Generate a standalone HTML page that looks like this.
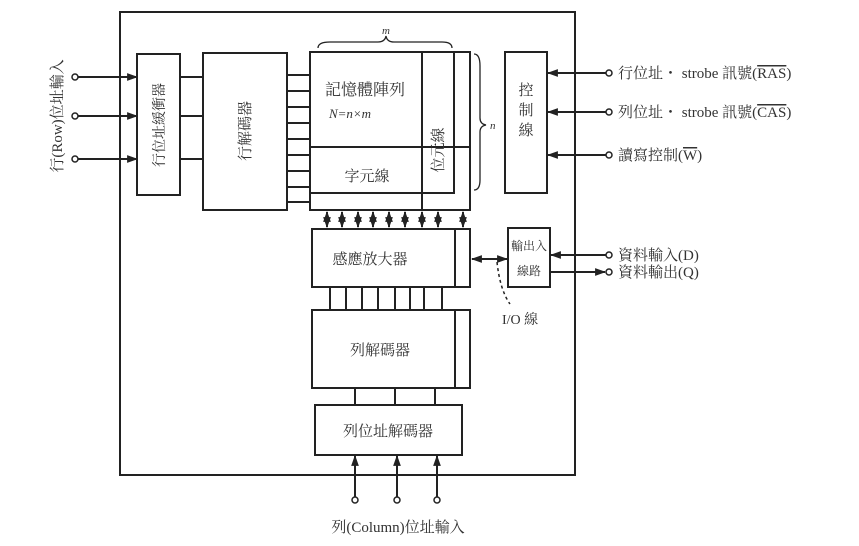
<!DOCTYPE html>
<html><head><meta charset="utf-8"><style>
html,body{margin:0;padding:0;background:#fff;}
svg{display:block;font-family:"Liberation Serif","Noto Serif CJK SC","Noto Sans CJK TC",serif;}
</style></head><body>
<svg width="859" height="546" viewBox="0 0 859 546" xmlns="http://www.w3.org/2000/svg">
<defs>
<marker id="a" viewBox="0 0 10 10" refX="9" refY="5" markerWidth="5.5" markerHeight="5.5" orient="auto-start-reverse"><path d="M0,1.5 L10,5 L0,8.5 z" fill="#222"/></marker>
</defs>
<g stroke="#222" stroke-width="2" fill="none">
<rect x="120" y="12" width="455" height="463"/>
<line x1="78" y1="77" x2="137" y2="77" marker-end="url(#a)"/>
<line x1="78" y1="116" x2="137" y2="116" marker-end="url(#a)"/>
<line x1="78" y1="159" x2="137" y2="159" marker-end="url(#a)"/>
<rect x="137" y="54" width="43" height="141"/>
<line x1="180" y1="77" x2="203" y2="77"/>
<line x1="180" y1="116" x2="203" y2="116"/>
<line x1="180" y1="159" x2="203" y2="159"/>
<rect x="203" y="53" width="84" height="157"/>
<line x1="287" y1="75" x2="310" y2="75"/>
<line x1="287" y1="91" x2="310" y2="91"/>
<line x1="287" y1="107" x2="310" y2="107"/>
<line x1="287" y1="123" x2="310" y2="123"/>
<line x1="287" y1="139" x2="310" y2="139"/>
<line x1="287" y1="155" x2="310" y2="155"/>
<line x1="287" y1="171" x2="310" y2="171"/>
<line x1="287" y1="187" x2="310" y2="187"/>
<line x1="287" y1="202" x2="310" y2="202"/>
<rect x="310" y="52" width="160" height="158"/>
<polyline points="310,193 454,193 454,52"/>
<line x1="422" y1="52" x2="422" y2="210"/>
<line x1="310" y1="147" x2="470" y2="147"/>
<path d="M318,48 Q318,42 330,42 L378,42 Q385,42 386,36 Q387,42 394,42 L442,42 Q452,42 452,48" stroke-width="1.3"/>
<path d="M474,54 Q480,54 480,66 L480,118 Q480,124 486,125 Q480,126 480,132 L480,180 Q480,190 474,190" stroke-width="1.3"/>
<g stroke-width="2">
<line x1="327" y1="212" x2="327" y2="227" marker-end="url(#a)" marker-start="url(#a)"/>
<line x1="342" y1="212" x2="342" y2="227" marker-end="url(#a)" marker-start="url(#a)"/>
<line x1="358" y1="212" x2="358" y2="227" marker-end="url(#a)" marker-start="url(#a)"/>
<line x1="373" y1="212" x2="373" y2="227" marker-end="url(#a)" marker-start="url(#a)"/>
<line x1="389" y1="212" x2="389" y2="227" marker-end="url(#a)" marker-start="url(#a)"/>
<line x1="405" y1="212" x2="405" y2="227" marker-end="url(#a)" marker-start="url(#a)"/>
<line x1="422" y1="212" x2="422" y2="227" marker-end="url(#a)" marker-start="url(#a)"/>
<line x1="438" y1="212" x2="438" y2="227" marker-end="url(#a)" marker-start="url(#a)"/>
<line x1="463" y1="212" x2="463" y2="227" marker-end="url(#a)" marker-start="url(#a)"/>
</g>
<rect x="312" y="229" width="158" height="58"/>
<line x1="455" y1="229" x2="455" y2="287"/>
<line x1="330" y1="287" x2="330" y2="310"/>
<line x1="346" y1="287" x2="346" y2="310"/>
<line x1="362" y1="287" x2="362" y2="310"/>
<line x1="378" y1="287" x2="378" y2="310"/>
<line x1="395" y1="287" x2="395" y2="310"/>
<line x1="410" y1="287" x2="410" y2="310"/>
<line x1="424" y1="287" x2="424" y2="310"/>
<line x1="442" y1="287" x2="442" y2="310"/>
<rect x="312" y="310" width="158" height="78"/>
<line x1="455" y1="310" x2="455" y2="388"/>
<line x1="355" y1="388" x2="355" y2="405"/>
<line x1="395" y1="388" x2="395" y2="405"/>
<line x1="435" y1="388" x2="435" y2="405"/>
<rect x="315" y="405" width="147" height="50"/>
<line x1="355" y1="497" x2="355" y2="456" marker-end="url(#a)"/>
<line x1="397" y1="497" x2="397" y2="456" marker-end="url(#a)"/>
<line x1="437" y1="497" x2="437" y2="456" marker-end="url(#a)"/>
<rect x="505" y="52" width="42" height="141"/>
<line x1="606" y1="73" x2="548" y2="73" marker-end="url(#a)"/>
<line x1="606" y1="112" x2="548" y2="112" marker-end="url(#a)"/>
<line x1="606" y1="155" x2="548" y2="155" marker-end="url(#a)"/>
<rect x="508" y="228" width="42" height="59"/>
<line x1="606" y1="255" x2="551" y2="255" marker-end="url(#a)"/>
<line x1="550" y1="272" x2="605" y2="272" marker-end="url(#a)"/>
<line x1="472" y1="259" x2="507" y2="259" marker-end="url(#a)" marker-start="url(#a)"/>
<path d="M497,262 Q500,290 510,304" stroke-width="1.5" stroke-dasharray="3,3"/>
</g>
<g fill="#fff" stroke="#222" stroke-width="1.5">
<circle cx="75" cy="77" r="3"/><circle cx="75" cy="116" r="3"/><circle cx="75" cy="159" r="3"/>
<circle cx="609" cy="73" r="3"/><circle cx="609" cy="112" r="3"/><circle cx="609" cy="155" r="3"/>
<circle cx="609" cy="255" r="3"/><circle cx="609" cy="272" r="3"/>
<circle cx="355" cy="500" r="3"/><circle cx="397" cy="500" r="3"/><circle cx="437" cy="500" r="3"/>
</g>
<g fill="#333" font-size="15">
<text transform="translate(62,116) rotate(-90)" text-anchor="middle">行(Row)位址輸入</text>
<text transform="translate(164,125) rotate(-90)" text-anchor="middle" font-size="14">行位址緩衝器</text>
<text transform="translate(250,131) rotate(-90)" text-anchor="middle">行解碼器</text>
<text x="365" y="95" text-anchor="middle" font-size="16">記憶體陣列</text>
<text x="350" y="118" text-anchor="middle" font-style="italic" font-size="13">N=n×m</text>
<text x="367" y="181" text-anchor="middle">字元線</text>
<text transform="translate(443,150) rotate(-90)" text-anchor="middle">位元線</text>
<text x="386" y="34" text-anchor="middle" font-style="italic" font-size="11">m</text>
<text x="490" y="129" font-style="italic" font-size="11">n</text>
<text x="526" y="95" text-anchor="middle">控</text>
<text x="526" y="115" text-anchor="middle">制</text>
<text x="526" y="135" text-anchor="middle">線</text>
<text x="370" y="264" text-anchor="middle">感應放大器</text>
<text x="380" y="355" text-anchor="middle">列解碼器</text>
<text x="388" y="436" text-anchor="middle">列位址解碼器</text>
<text x="529" y="250" text-anchor="middle" font-size="12">輸出入</text>
<text x="529" y="275" text-anchor="middle" font-size="12">線路</text>
<text x="502" y="324" font-size="14">I/O 線</text>
<text x="398" y="532" text-anchor="middle">列(Column)位址輸入</text>
<text x="618" y="78">行位址・ strobe 訊號(<tspan text-decoration="overline">RAS</tspan>)</text>
<text x="618" y="117">列位址・ strobe 訊號(<tspan text-decoration="overline">CAS</tspan>)</text>
<text x="618" y="160">讀寫控制(<tspan text-decoration="overline">W</tspan>)</text>
<text x="618" y="260">資料輸入(D)</text>
<text x="618" y="277">資料輸出(Q)</text>
</g>
</svg>
</body></html>
